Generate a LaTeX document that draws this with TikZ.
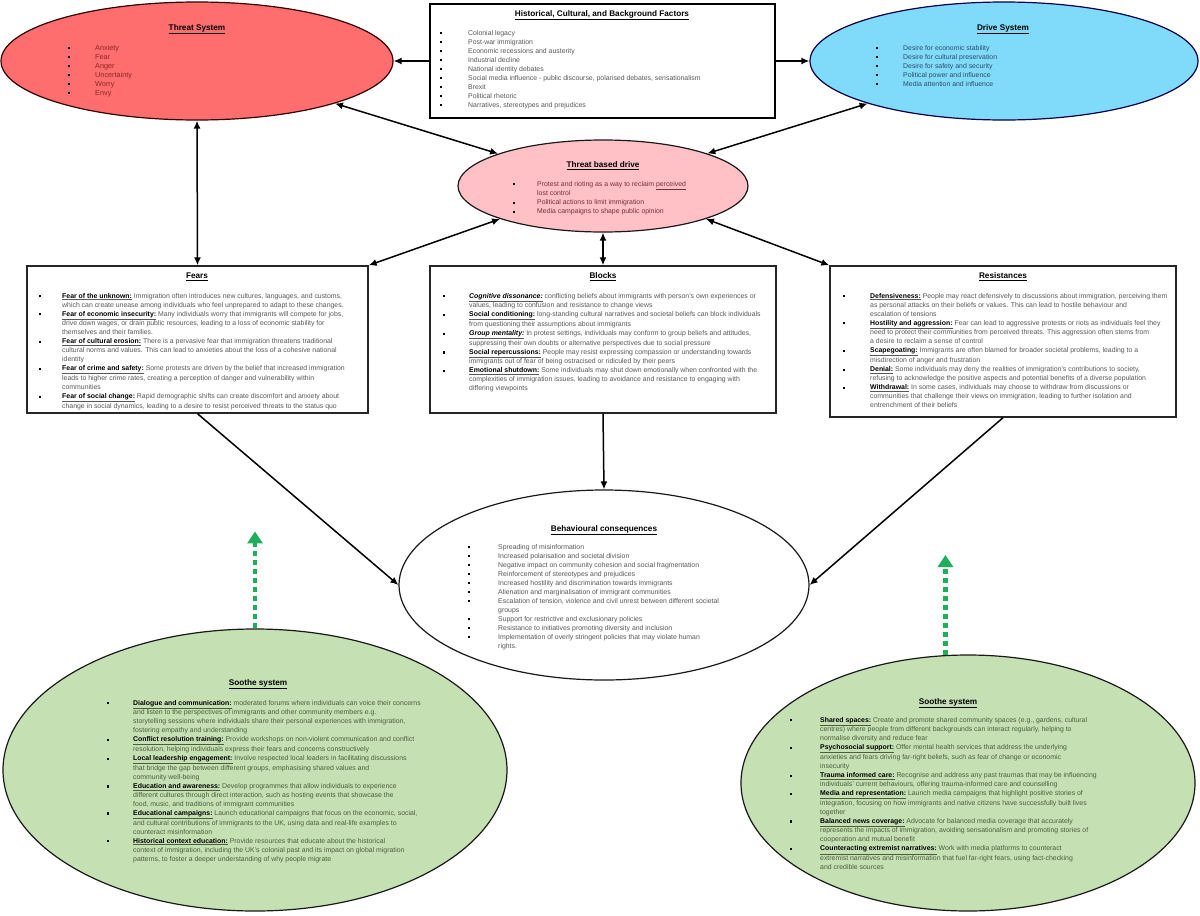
\documentclass[tikz,border=0pt]{standalone}
\usepackage{fontspec}
\setmainfont{Liberation Sans}
\usetikzlibrary{shapes.geometric,arrows.meta,calc}
\definecolor{threatfill}{HTML}{FF6E6E}
\definecolor{drivefill}{HTML}{80DBFA}
\definecolor{tbdfill}{HTML}{FFC0C6}
\definecolor{soothefill}{HTML}{C5E0B3}
\definecolor{greenarr}{HTML}{1FAE5A}
\definecolor{threattxt}{HTML}{8B2525}
\definecolor{drivetxt}{HTML}{2E4A6B}
\definecolor{tbdtxt}{HTML}{7A2E3A}
\definecolor{boxtxt}{HTML}{585858}
\definecolor{soothetxt}{HTML}{4D5D3D}
\newcommand\sqbul{\leavevmode{\color{black}\rule[0.6pt]{2.2pt}{2.2pt}}}
\newcommand\mylab[1]{\underline{\textbf{\color{black}#1}}}
\newcommand\mylabi[1]{\underline{\textbf{\textit{\color{black}#1}}}}
\newenvironment{blist}[1]{\begin{tabular}{@{}p{#1}@{}l@{}}}{\end{tabular}}
\begin{document}
\begin{tikzpicture}[x=1pt,y=-1pt,
  every node/.style={inner sep=0pt},
  ttl/.style={font=\fontsize{8.2}{9}\selectfont\bfseries, text=black},
  lst/.style={anchor=north west, font=\fontsize{6.9}{9}\selectfont},
  boxnode/.style={rectangle, draw=black!85, line width=1.4pt, fill=white},
  ell/.style={ellipse, draw=black!90, line width=1.2pt},
  conn/.style={line width=1.5pt, -{Latex[length=8pt,width=7pt]}},
  dconn/.style={line width=1.5pt, {Latex[length=8pt,width=7pt]}-{Latex[length=8pt,width=7pt]}},
  garrow/.style={draw=greenarr, line width=4.5pt, dash pattern=on 5pt off 4pt, -{Triangle[length=12pt,width=15pt]}}
]
\fill[white] (0,0) rectangle (1200,916);
\useasboundingbox (0,0) rectangle (1200,916);

% shapes
\node[ell, fill=threatfill, draw=black!80!red, minimum width=392pt, minimum height=118pt] (threat) at (197,61) {};
\node[ell, fill=drivefill, draw=black!70!blue, minimum width=388pt, minimum height=118pt] (drive) at (1004,61) {};
\node[boxnode, draw=black, minimum width=345pt, minimum height=114pt] (hist) at (602.5,61) {};
\node[ell, fill=tbdfill, minimum width=290pt, minimum height=92pt] (tbd) at (603,186) {};
\node[boxnode, minimum width=341pt, minimum height=147pt] (fears) at (197.5,339.5) {};
\node[boxnode, minimum width=346pt, minimum height=147pt] (blocks) at (603,339.5) {};
\node[boxnode, minimum width=346pt, minimum height=151pt] (res) at (1003,341.5) {};
\node[ell, fill=white, minimum width=410pt, minimum height=190pt] (beh) at (604,585) {};
\node[ell, fill=soothefill, minimum width=504pt, minimum height=282pt] (sootheL) at (255,770) {};
\node[ell, fill=soothefill, minimum width=454pt, minimum height=256pt] (sootheR) at (968,783) {};

% connectors
\draw[conn] (hist.west |- threat.east) -- (threat.east);
\draw[conn] (hist.east |- drive.west) -- (drive.west);
\draw[dconn] (threat.south) -- (fears.north);
\draw[dconn] (threat) -- (tbd);
\draw[dconn] (drive) -- (tbd);
\draw[dconn] (tbd.south west) -- (fears.north east);
\draw[dconn] (tbd.south) -- (blocks.north);
\draw[dconn] (tbd.south east) -- (res.north west);
\draw[conn] (fears.south) -- (beh.west);
\draw[conn] (blocks.south) -- (beh.north);
\draw[conn] (res.south) -- (beh.east);
\coordinate (glT) at ($(sootheL.north)+(0,-97)$);
\coordinate (grT) at ($(sootheR.100)+(0,-100)$);
\draw[garrow] (sootheL.north) -- (glT);
\draw[garrow] (sootheR.100) -- (grT);

% titles
\node[ttl] (threatT) at (197,29) {\underline{Threat System}};
\node[ttl] (histT) at (602,15) {\underline{Historical, Cultural, and Background Factors}};
\node[ttl] (driveT) at (1003,29) {\underline{Drive System}};
\node[ttl] (tbdT) at (603,166) {\underline{Threat based drive}};
\node[ttl] (fearsT) at (197,277) {\underline{Fears}};
\node[ttl] (blocksT) at (603,277) {\underline{Blocks}};
\node[ttl] (resT) at (1003,277) {\underline{Resistances}};
\node[ttl] (behT) at (604,530) {\underline{Behavioural consequences}};
\node[ttl] (sootheLT) at (258,684) {\underline{Soothe system}};
\node[ttl] (sootheRT) at (948,703) {\underline{Soothe system}};

% lists
\node[lst, text=threattxt, font=\fontsize{7.3}{9}\selectfont] (threatL) at (68,43.5) {\begin{blist}{27pt}
\sqbul & Anxiety\\
\sqbul & Fear\\
\sqbul & Anger\\
\sqbul & Uncertainty\\
\sqbul & Worry\\
\sqbul & Envy
\end{blist}};

\node[lst, text=boxtxt] (histL) at (440,28.5) {\begin{blist}{28pt}
\sqbul & Colonial legacy\\
\sqbul & Post-war immigration\\
\sqbul & Economic recessions and austerity\\
\sqbul & Industrial decline\\
\sqbul & National identity debates\\
\sqbul & Social media influence - public discourse, polarised debates, sensationalism\\
\sqbul & Brexit\\
\sqbul & Political rhetoric\\
\sqbul & Narratives, stereotypes and prejudices
\end{blist}};

\node[lst, text=drivetxt] (driveL) at (876,43.5) {\begin{blist}{27pt}
\sqbul & Desire for economic stability\\
\sqbul & Desire for cultural preservation\\
\sqbul & Desire for safety and security\\
\sqbul & Political power and influence\\
\sqbul & Media attention and influence
\end{blist}};

\node[lst, text=tbdtxt] (tbdL) at (513,179.5) {\begin{blist}{24pt}
\sqbul & Protest and rioting as a way to reclaim \underline{perceived}\\
 & lost control\\
\sqbul & Political actions to limit immigration\\
\sqbul & Media campaigns to shape public opinion
\end{blist}};

\node[lst, text=boxtxt] (fearsL) at (39,291.5) {\begin{blist}{23pt}
\sqbul & \mylab{Fear of the unknown:} Immigration often introduces new cultures, languages, and customs,\\
 & which can create unease among individuals who feel unprepared to adapt to these changes.\\
\sqbul & \mylab{Fear of economic insecurity:} Many individuals worry that immigrants will compete for jobs,\\
 & drive down wages, or drain public resources, leading to a loss of economic stability for\\
 & themselves and their families.\\
\sqbul & \mylab{Fear of cultural erosion:} There is a pervasive fear that immigration threatens traditional\\
 & cultural norms and values. This can lead to anxieties about the loss of a cohesive national\\
 & identity\\
\sqbul & \mylab{Fear of crime and safety:} Some protests are driven by the belief that increased immigration\\
 & leads to higher crime rates, creating a perception of danger and vulnerability within\\
 & communities\\
\sqbul & \mylab{Fear of social change:} Rapid demographic shifts can create discomfort and anxiety about\\
 & change in social dynamics, leading to a desire to resist perceived threats to the status quo
\end{blist}};

\node[lst, text=boxtxt] (blocksL) at (443,291.5) {\begin{blist}{26pt}
\sqbul & \mylabi{Cognitive dissonance:} conflicting beliefs about immigrants with person's own experiences or\\
 & values, leading to confusion and resistance to change views\\
\sqbul & \mylab{Social conditioning:} long-standing cultural narratives and societal beliefs can block individuals\\
 & from questioning their assumptions about immigrants\\
\sqbul & \mylabi{Group mentality:} In protest settings, individuals may conform to group beliefs and attitudes,\\
 & suppressing their own doubts or alternative perspectives due to social pressure\\
\sqbul & \mylab{Social repercussions:} People may resist expressing compassion or understanding towards\\
 & immigrants out of fear of being ostracised or ridiculed by their peers\\
\sqbul & \mylab{Emotional shutdown:} Some individuals may shut down emotionally when confronted with the\\
 & complexities of immigration issues, leading to avoidance and resistance to engaging with\\
 & differing viewpoints
\end{blist}};

\node[lst, text=boxtxt] (resL) at (843,291.5) {\begin{blist}{27pt}
\sqbul & \mylab{Defensiveness:} People may react defensively to discussions about immigration, perceiving them\\
 & as personal attacks on their beliefs or values. This can lead to hostile behaviour and\\
 & escalation of tensions\\
\sqbul & \mylab{Hostility and aggression:} Fear can lead to aggressive protests or riots as individuals feel they\\
 & need to protect their communities from perceived threats. This aggression often stems from\\
 & a desire to reclaim a sense of control\\
\sqbul & \mylab{Scapegoating:} Immigrants are often blamed for broader societal problems, leading to a\\
 & misdirection of anger and frustration\\
\sqbul & \mylab{Denial:} Some individuals may deny the realities of immigration's contributions to society,\\
 & refusing to acknowledge the positive aspects and potential benefits of a diverse population\\
\sqbul & \mylab{Withdrawal:} In some cases, individuals may choose to withdraw from discussions or\\
 & communities that challenge their views on immigration, leading to further isolation and\\
 & entrenchment of their beliefs
\end{blist}};

\node[lst, text=boxtxt] (behL) at (468,542.5) {\begin{blist}{30pt}
\sqbul & Spreading of misinformation\\
\sqbul & Increased polarisation and societal division\\
\sqbul & Negative impact on community cohesion and social fragmentation\\
\sqbul & Reinforcement of stereotypes and prejudices\\
\sqbul & Increased hostility and discrimination towards immigrants\\
\sqbul & Alienation and marginalisation of immigrant communities\\
\sqbul & Escalation of tension, violence and civil unrest between different societal\\
 & groups\\
\sqbul & Support for restrictive and exclusionary policies\\
\sqbul & Resistance to initiatives promoting diversity and inclusion\\
\sqbul & Implementation of overly stringent policies that may violate human\\
 & rights.
\end{blist}};

\node[lst, text=soothetxt] (sootheLL) at (107,698.5) {\begin{blist}{26pt}
\sqbul & \mylab{Dialogue and communication:} moderated forums where individuals can voice their concerns\\
 & and listen to the perspectives of immigrants and other community members e.g.\\
 & storytelling sessions where individuals share their personal experiences with immigration,\\
 & fostering empathy and understanding\\
\sqbul & \mylab{Conflict resolution training:} Provide workshops on non-violent communication and conflict\\
 & resolution, helping individuals express their fears and concerns constructively\\
\sqbul & \mylab{Local leadership engagement:} Involve respected local leaders in facilitating discussions\\
 & that bridge the gap between different groups, emphasising shared values and\\
 & community well-being\\
\sqbul & \mylab{Education and awareness:} Develop programmes that allow individuals to experience\\
 & different cultures through direct interaction, such as hosting events that showcase the\\
 & food, music, and traditions of immigrant communities\\
\sqbul & \mylab{Educational campaigns:} Launch educational campaigns that focus on the economic, social,\\
 & and cultural contributions of immigrants to the UK, using data and real-life examples to\\
 & counteract misinformation\\
\sqbul & \mylab{Historical context education:} Provide resources that educate about the historical\\
 & context of immigration, including the UK's colonial past and its impact on global migration\\
 & patterns, to foster a deeper understanding of why people migrate
\end{blist}};

\node[lst, text=soothetxt] (sootheRL) at (790,715.5) {\begin{blist}{30pt}
\sqbul & \mylab{Shared spaces:} Create and promote shared community spaces (e.g., gardens, cultural\\
 & centres) where people from different backgrounds can interact regularly, helping to\\
 & normalise diversity and reduce fear\\
\sqbul & \mylab{Psychosocial support:} Offer mental health services that address the underlying\\
 & anxieties and fears driving far-right beliefs, such as fear of change or economic\\
 & insecurity\\
\sqbul & \mylab{Trauma informed care:} Recognise and address any past traumas that may be influencing\\
 & individuals' current behaviours, offering trauma-informed care and counselling\\
\sqbul & \mylab{Media and representation:} Launch media campaigns that highlight positive stories of\\
 & integration, focusing on how immigrants and native citizens have successfully built lives\\
 & together\\
\sqbul & \mylab{Balanced news coverage:} Advocate for balanced media coverage that accurately\\
 & represents the impacts of immigration, avoiding sensationalism and promoting stories of\\
 & cooperation and mutual benefit\\
\sqbul & \mylab{Counteracting extremist narratives:} Work with media platforms to counteract\\
 & extremist narratives and misinformation that fuel far-right fears, using fact-checking\\
 & and credible sources
\end{blist}};
\end{tikzpicture}
\end{document}
